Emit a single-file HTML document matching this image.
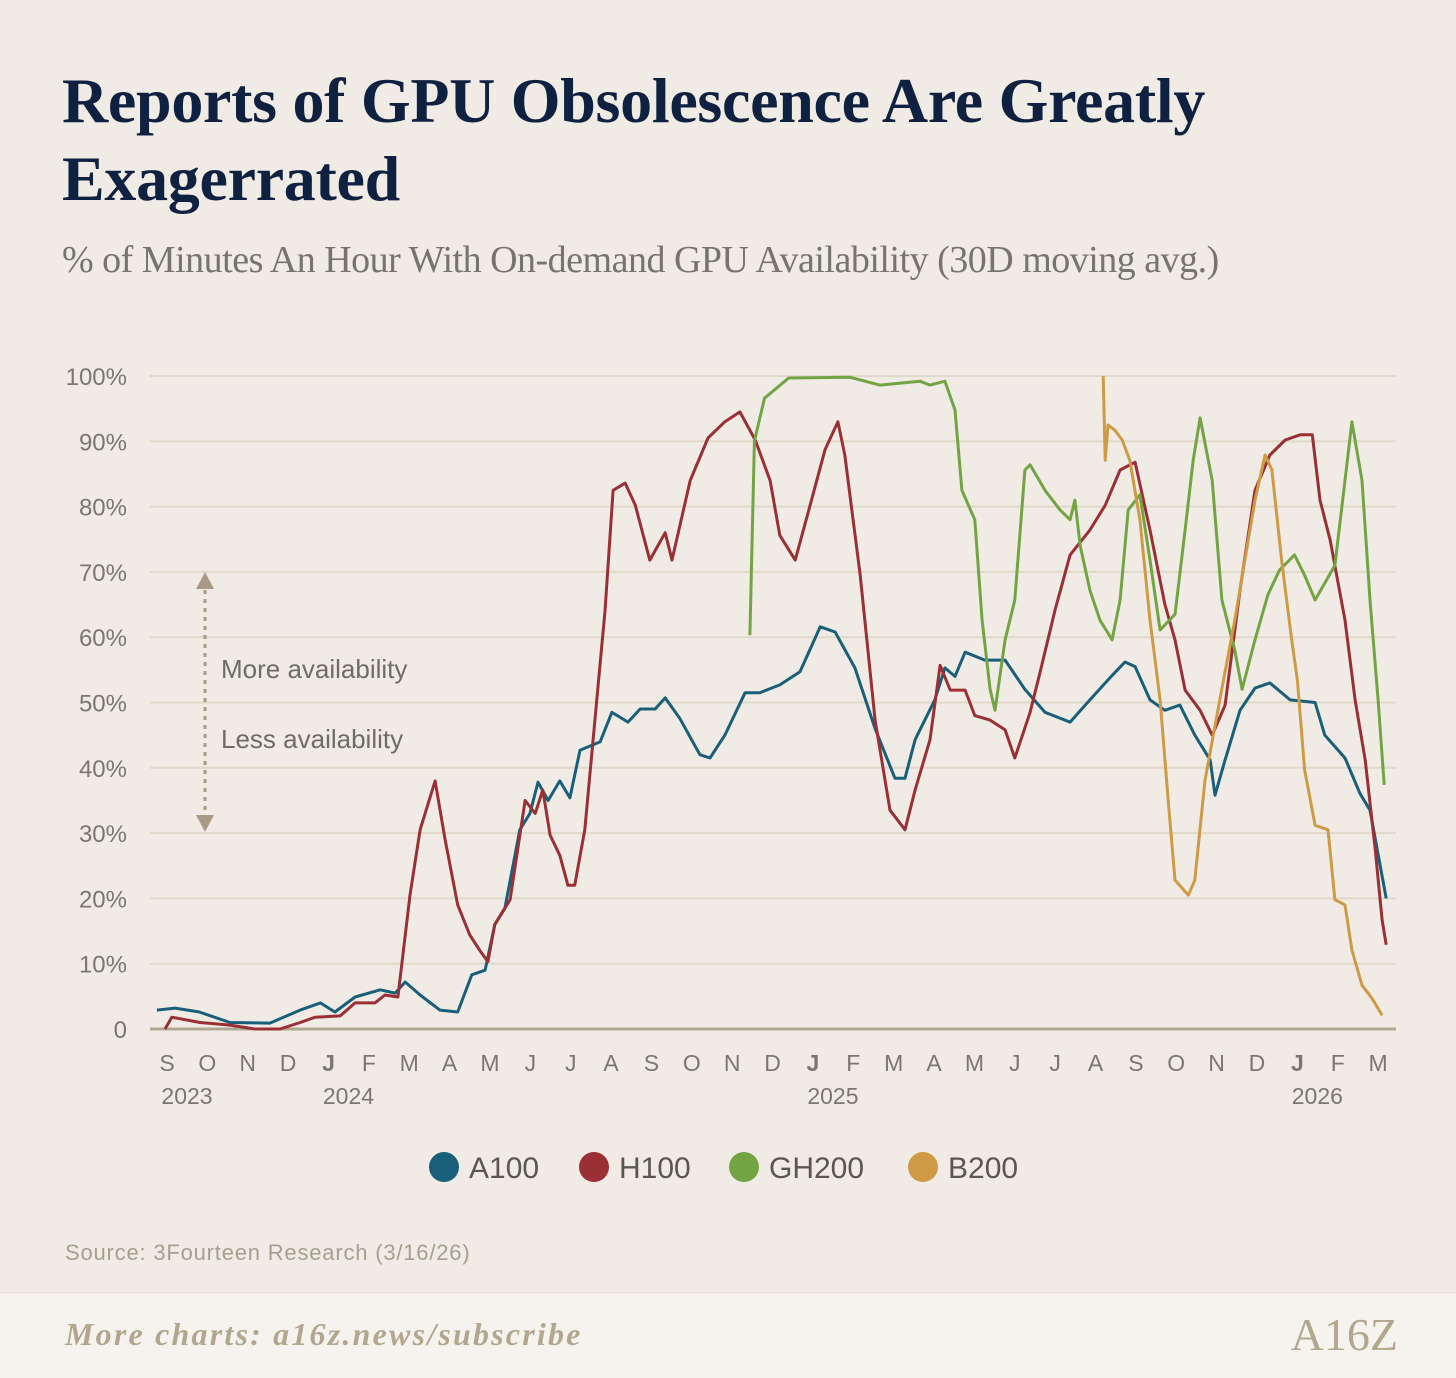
<!DOCTYPE html>
<html><head><meta charset="utf-8">
<style>
html,body{margin:0;padding:0;background:#f0ece5;}
body{width:1456px;height:1377px;position:relative;overflow:hidden;font-family:"Liberation Sans",sans-serif;}
.title{position:absolute;left:62px;top:62px;font-family:"Liberation Serif",serif;font-weight:bold;font-size:64px;line-height:78px;color:#0f2140;letter-spacing:-0.3px;}
.sub{position:absolute;left:62px;top:238px;font-family:"Liberation Serif",serif;font-size:38px;color:#77736e;letter-spacing:-0.5px;}
.footer{position:absolute;left:0;top:1292px;width:1456px;height:85px;background:#f6f3ee;border-top:1px solid #e4ded3;}
.more{position:absolute;left:65px;top:1316px;font-family:"Liberation Serif",serif;font-style:italic;font-weight:bold;font-size:32px;letter-spacing:2.2px;color:#b3a68f;}
.logo{position:absolute;right:58px;top:1308px;font-family:"Liberation Serif",serif;font-size:46px;color:#b3a68f;}
.src{position:absolute;left:65px;top:1240px;font-size:22px;letter-spacing:0.8px;color:#a89e8e;}
</style></head><body>
<div class="title">Reports of GPU Obsolescence Are Greatly<br>Exagerrated</div>
<div class="sub">% of Minutes An Hour With On-demand GPU Availability (30D moving avg.)</div>
<svg id="chart" width="1456" height="1230" style="position:absolute;left:0;top:0"></svg>
<div class="src">Source: 3Fourteen Research (3/16/26)</div>
<div class="footer"></div>
<div class="more">More charts: a16z.news/subscribe</div>
<div class="logo">A16Z</div>
<script>
const yTicks=[0,10,20,30,40,50,60,70,80,90,100];
const monthLabels=["S","O","N","D","J","F","M","A","M","J","J","A","S","O","N","D","J","F","M","A","M","J","J","A","S","O","N","D","J","F","M"];
const yearLabels=[["2023",0],["2024",4],["2025",16],["2026",28]];
// x in months since Sep 1 2023, y in %
const a100X=[-0.25,0.2,0.8,1.56,2.55,3.3,3.8,4.16,4.66,5.28,5.65,5.9,6.27,6.76,7.2,7.55,7.88,8.12,8.37,8.74,8.99,9.19,9.44,9.73,9.98,10.23,10.73,11.02,11.42,11.72,12.09,12.34,12.7,13.2,13.45,13.82,14.32,14.69,15.18,15.68,16.18,16.55,17.04,17.54,18.03,18.28,18.53,19.02,19.27,19.52,19.77,20.26,20.76,21.25,21.75,22.37,22.86,23.36,23.73,23.98,24.35,24.72,25.09,25.46,25.84,25.96,26.2,26.58,26.95,27.32,27.82,28.44,28.68,29.18,29.55,29.8,30.2];
const a100Y=[2.9,3.2,2.6,1,0.9,2.9,4,2.6,4.9,6,5.5,7.2,5.2,2.9,2.6,8.3,9,16,18.5,30.5,33,37.8,35,38,35.4,42.7,44,48.5,47,49,49,50.7,47.6,42,41.5,45,51.5,51.5,52.7,54.7,61.6,60.8,55.3,46,38.4,38.4,44.3,50.4,55.3,54,57.7,56.5,56.5,52,48.5,47,50.4,53.8,56.2,55.5,50.4,48.8,49.6,45,41.2,35.8,41,48.8,52.2,53,50.4,50,45,41.5,36.1,33.5,20];
const h100X=[-0.05,0.12,0.82,1.56,2.18,2.8,3.3,3.67,4.29,4.66,5.15,5.4,5.72,6.02,6.27,6.64,6.89,7.2,7.5,7.75,7.95,8.12,8.5,8.87,9.12,9.31,9.49,9.73,9.93,10.1,10.35,10.6,10.85,11.05,11.35,11.6,11.96,12.34,12.51,12.96,13.4,13.82,14.19,14.57,14.94,15.18,15.56,15.93,16.3,16.62,16.79,17.17,17.54,17.91,18.28,18.53,18.9,19.15,19.4,19.77,20.01,20.39,20.76,21.0,21.38,21.63,22.0,22.37,22.86,23.24,23.61,23.98,24.35,24.72,24.97,25.22,25.59,25.89,26.21,26.58,26.95,27.32,27.7,28.07,28.37,28.56,28.81,29.18,29.43,29.68,29.93,30.1,30.2];
const h100Y=[0,1.8,1,0.6,0,0,1,1.8,2,4,4,5.2,4.9,20.5,30.5,38,29,19,14.4,12,10.3,16,19.8,35,33,36.6,29.7,26.6,22,22,30.5,47.3,64,82.5,83.6,80.2,71.8,76,71.8,84,90.5,93,94.5,90.2,84,75.6,71.8,80.2,88.7,93,87.9,69.5,47.3,33.5,30.5,36.6,44.3,55.7,51.9,51.9,48,47.3,45.8,41.5,48.5,54.7,64.2,72.6,76.4,80.2,85.6,86.8,76.4,65,59.6,51.9,48.8,45,49.6,67.2,82.5,87.9,90.2,91,91,81,74.9,62.6,50.4,41.2,27.4,16.7,12.9];
const gh200X=[14.44,14.55,14.8,15.4,16.92,17.66,18.65,18.9,19.27,19.52,19.69,20.01,20.19,20.39,20.51,20.76,21,21.25,21.38,21.75,22.12,22.37,22.49,22.62,22.86,23.11,23.41,23.61,23.81,24.1,24.35,24.6,24.97,25.22,25.42,25.59,25.89,26.13,26.45,26.63,26.95,27.27,27.56,27.93,28.18,28.44,28.93,29.18,29.35,29.6,29.8,30.0,30.15];
const gh200Y=[60.3,90,96.6,99.7,99.8,98.6,99.2,98.6,99.2,94.8,82.5,78,62.6,52,48.8,59.6,65.7,85.6,86.4,82.5,79.5,78,81,74,67.2,62.6,59.6,65.7,79.5,81.8,71.8,61.1,63.5,76.4,87.1,93.6,84,65.7,58,52,59.6,66.5,70.3,72.6,69.5,65.7,71,84,93,84,65.7,50.4,37.4];
const b200X=[23.19,23.24,23.31,23.48,23.66,23.85,24.1,24.35,24.6,24.8,24.97,25.3,25.46,25.71,26.08,26.45,26.95,27.2,27.37,27.61,27.86,28.0,28.18,28.44,28.76,28.93,29.18,29.35,29.6,29.85,30.1];
const b200Y=[100,87.1,92.5,91.7,90.2,87.1,78,62.6,50.4,35,22.8,20.5,22.8,38,50.4,62.6,81,87.9,85.6,71.8,59.6,53.4,39.7,31.2,30.5,19.8,19,12.1,6.7,4.7,2.1];
const series=[["A100","#1a5f7a",a100X,a100Y],["H100","#9b2f36",h100X,h100Y],["GH200","#73a443",gh200X,gh200Y],["B200","#cf9a45",b200X,b200Y]];

const NS="http://www.w3.org/2000/svg",svg=document.getElementById('chart');
const X=m=>167+m*40.37, Y=v=>1029-v*6.53;
function mk(t,a,p){const e=document.createElementNS(NS,t);for(const k in a)e.setAttribute(k,a[k]);(p||svg).appendChild(e);return e;}
yTicks.forEach(v=>{
  const l=mk('line',{x1:150,x2:1396,y1:Y(v),y2:Y(v),stroke:v===0?'#b1a692':'#e0d8c9','stroke-width':v===0?3:2});
  
  
  const t=mk('text',{x:127,y:Y(v)+9,'text-anchor':'end','font-size':24,fill:'#7b7770','font-family':'Liberation Sans, sans-serif'});
  t.textContent=v===0?'0':v+'%';
  
  
});
monthLabels.forEach((s,i)=>{
  const t=mk('text',{x:X(i),y:1071,'text-anchor':'middle','font-size':23,fill:'#7b7770','font-weight':s==='J'&&(i===4||i===16||i===28)?'bold':'normal'});
  t.textContent=s;
  
  
});
yearLabels.forEach(([s,i])=>{
  const t=mk('text',{x:X(i)+20,y:1104,'text-anchor':'middle','font-size':23,fill:'#7b7770'});
  t.textContent=s;
  
  
});
const ar=mk('line',{x1:205,x2:205,y1:590,y2:815,stroke:'#a89a85','stroke-width':3,'stroke-dasharray':'4,5'});


mk('polygon',{points:'196,589 214,589 205,572',fill:'#a89a85'});
mk('polygon',{points:'196,815 214,815 205,832',fill:'#a89a85'});
[["More availability",678],["Less availability",748]].forEach(([s,y])=>{
  const t=mk('text',{x:221,y:y,'font-size':26,fill:'#6f6b65'});t.textContent=s;
  
  
});
series.forEach(([n,c,xs,ys])=>{
  const p=mk('path',{d:xs.map((m,i)=>(i?'L':'M')+X(m).toFixed(1)+','+Y(ys[i]).toFixed(1)).join(''),fill:'none',stroke:c,'stroke-width':3,'stroke-linejoin':'round'});
  
  
});
const legendStarts=[429,579,729,908];
series.forEach(([n,c],i)=>{
  const lx=legendStarts[i];
  const g=mk('g',{});
  
  
  mk('circle',{cx:lx+15,cy:1167,r:15,fill:c},g);
  const t=mk('text',{x:lx+40,y:1178,'font-size':30,fill:'#5a5650'},g);t.textContent=n;
});
</script>
</body></html>
